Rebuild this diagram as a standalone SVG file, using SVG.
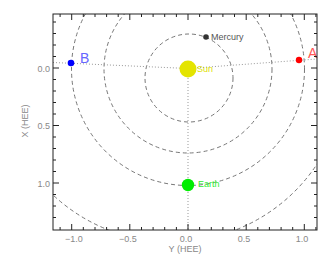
<svg xmlns="http://www.w3.org/2000/svg" width="332" height="262" viewBox="0 0 332 262">
<defs>
<style>
.orbit{fill:none;stroke:#777;stroke-width:1;stroke-dasharray:4 3}
.dot{fill:none;stroke:#999;stroke-width:1;stroke-dasharray:1 2}
.ax{stroke:#222;stroke-width:1;fill:none}
.tk{stroke:#222;stroke-width:1}
.lbl{font-family:"Liberation Sans",Arial,sans-serif;font-size:9px;fill:#888}
.small{font-family:"Liberation Sans",Arial,sans-serif;font-size:9px}
.big{font-family:"Liberation Sans",Arial,sans-serif;font-size:14px}
</style>
<clipPath id="plot"><rect x="53" y="14" width="264" height="216"/></clipPath>
</defs>
<rect width="332" height="262" fill="#fff"/>
<g id="orbits" clip-path="url(#plot)">
<circle class="orbit" cx="189" cy="78" r="44"/>
<circle class="orbit" cx="188" cy="69" r="84"/>
<circle class="orbit" cx="188" cy="69" r="116.5"/>
<circle class="orbit" cx="172" cy="68" r="174"/>
</g>
<g id="connectors" clip-path="url(#plot)">
<line class="dot" x1="53" y1="62.5" x2="188" y2="68.5"/>
<line class="dot" x1="188" y1="68.5" x2="317" y2="59"/>
<line class="dot" x1="188" y1="69" x2="188" y2="230"/>
</g>
<g id="sun"><circle cx="188" cy="69" r="8.5" fill="#e4e400"/><text class="small" x="197" y="72" fill="#e0e000">Sun</text></g>
<g id="mercury"><circle cx="206" cy="37" r="2.8" fill="#333"/><text class="small" x="211" y="40" fill="#555">Mercury</text></g>
<g id="earth"><circle cx="188" cy="185" r="6.2" fill="#00ee00"/><text class="small" x="198" y="186.5" fill="#33ee33">Earth</text></g>
<g id="A"><circle cx="299" cy="60" r="3.2" fill="#ff0000"/><text class="big" x="308" y="58" fill="#ff5555">A</text></g>
<g id="B"><circle cx="71" cy="63" r="3.3" fill="#0000ff"/><text class="big" x="80" y="63" fill="#6666ff">B</text></g>
<g id="axes">
<rect class="ax" x="53" y="14" width="264" height="216"/>
<path class="tk" d="M60.1 14v3M71.7 14v6M83.3 14v3M95 14v3M106.6 14v3M118.2 14v3M129.8 14v6M141.5 14v3M153.1 14v3M164.7 14v3M176.4 14v3M188 14v6M199.6 14v3M211.3 14v3M222.9 14v3M234.5 14v3M246.2 14v6M257.8 14v3M269.4 14v3M281.1 14v3M292.7 14v3M304.3 14v6M315.9 14v3"/>
<path class="tk" d="M60.1 230v-3M71.7 230v-6M83.3 230v-3M95 230v-3M106.6 230v-3M118.2 230v-3M129.8 230v-6M141.5 230v-3M153.1 230v-3M164.7 230v-3M176.4 230v-3M188 230v-6M199.6 230v-3M211.3 230v-3M222.9 230v-3M234.5 230v-3M246.2 230v-6M257.8 230v-3M269.4 230v-3M281.1 230v-3M292.7 230v-3M304.3 230v-6M315.9 230v-3"/>
<path class="tk" d="M53 22h3M53 33.5h3M53 45h3M53 56.5h3M53 68h6M53 79.5h3M53 91h3M53 102.5h3M53 114h3M53 125.5h6M53 137h3M53 148.5h3M53 160h3M53 171.5h3M53 183h6M53 194.5h3M53 206h3M53 217.5h3"/>
<path class="tk" d="M317 22h-3M317 33.5h-3M317 45h-3M317 56.5h-3M317 68h-6M317 79.5h-3M317 91h-3M317 102.5h-3M317 114h-3M317 125.5h-6M317 137h-3M317 148.5h-3M317 160h-3M317 171.5h-3M317 183h-6M317 194.5h-3M317 206h-3M317 217.5h-3"/>
</g>
<g id="labels">
<text class="lbl" x="74" y="242" text-anchor="middle">−1.0</text>
<text class="lbl" x="128" y="242" text-anchor="middle">−0.5</text>
<text class="lbl" x="186" y="242" text-anchor="middle">0.0</text>
<text class="lbl" x="244" y="242" text-anchor="middle">0.5</text>
<text class="lbl" x="302" y="242" text-anchor="middle">1.0</text>
<text class="lbl" x="185" y="252" text-anchor="middle">Y (HEE)</text>
<text class="lbl" x="50" y="72" text-anchor="end">0.0</text>
<text class="lbl" x="50" y="129" text-anchor="end">0.5</text>
<text class="lbl" x="50" y="187" text-anchor="end">1.0</text>
<text class="lbl" transform="translate(27.5,121) rotate(-90)" text-anchor="middle">X (HEE)</text>
</g>
</svg>
